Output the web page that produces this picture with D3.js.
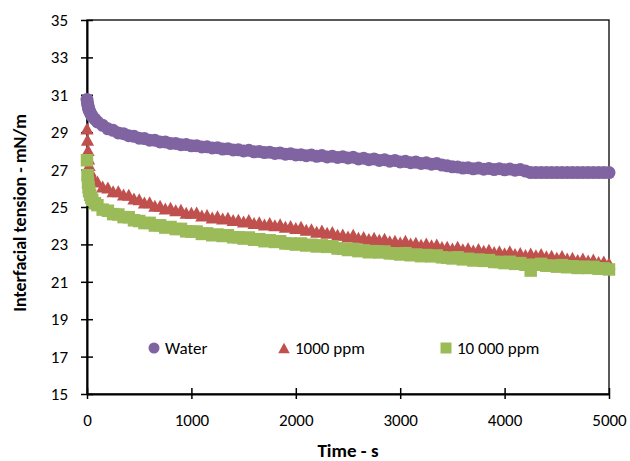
<!DOCTYPE html>
<html>
<head>
<meta charset="utf-8">
<script src="https://cdn.jsdelivr.net/npm/d3@7"></script>
<style>
  html, body { margin: 0; padding: 0; background: #fff; }
  svg text { font-family: Carlito, Lato, sans-serif; fill: #000; }
</style>
</head>
<body>
<div id="chart"></div>
<script>
/////////////////////////////////////////////////////////
////////////////////// The data /////////////////////////
/////////////////////////////////////////////////////////

// sampling times (s), shared by the three series
const times = [
  0, 5, 10, 15, 20, 30, 40, 50, 75,
  100, 150, 200, 250, 300, 350, 400, 450, 500, 550, 600, 650, 700, 750, 800, 850, 900, 950, 1000,
  1050, 1100, 1150, 1200, 1250, 1300, 1350, 1400, 1450, 1500, 1550, 1600, 1650, 1700, 1750, 1800, 1850, 1900, 1950, 2000,
  2050, 2100, 2150, 2200, 2250, 2300, 2350, 2400, 2450, 2500, 2550, 2600, 2650, 2700, 2750, 2800, 2850, 2900, 2950, 3000,
  3050, 3100, 3150, 3200, 3250, 3300, 3350, 3400, 3450, 3500, 3550, 3600, 3650, 3700, 3750, 3800, 3850, 3900, 3950, 4000,
  4050, 4100, 4150, 4200, 4250, 4300, 4350, 4400, 4450, 4500, 4550, 4600, 4650, 4700, 4750, 4800, 4850, 4900, 4950, 5000
];

// interfacial tension (mN/m)
const water = [
  30.75, 30.55, 30.4, 30.28, 30.18, 30.05, 29.95, 29.85, 29.7,
  29.55, 29.37, 29.18, 29.1, 28.96, 28.92, 28.81, 28.78, 28.68, 28.66, 28.57, 28.57, 28.48, 28.48, 28.4, 28.4, 28.33, 28.34, 28.27,
  28.28, 28.21, 28.22, 28.16, 28.17, 28.1, 28.12, 28.05, 28.06, 28.0, 28.03, 27.95, 27.97, 27.91, 27.93, 27.86, 27.89, 27.82, 27.85, 27.78,
  27.8, 27.74, 27.78, 27.71, 27.75, 27.68, 27.72, 27.65, 27.69, 27.62, 27.66, 27.57, 27.61, 27.53, 27.57, 27.49, 27.53, 27.45, 27.49, 27.41,
  27.44, 27.37, 27.4, 27.33, 27.36, 27.29, 27.32, 27.24, 27.2, 27.15, 27.14, 27.08, 27.1, 27.04, 27.08, 27.02, 27.06, 27.0, 27.05, 26.99,
  27.03, 26.97, 27.0, 26.92, 26.84, 26.84, 26.84, 26.84, 26.84, 26.84, 26.84, 26.84, 26.84, 26.84, 26.84, 26.84, 26.84, 26.84, 26.84, 26.84
];

const ppm1000 = [
  29.2, 28.6, 28.05, 27.6, 27.25, 26.95, 26.72, 26.58, 26.42,
  26.36, 26.1, 26.04, 25.84, 25.84, 25.67, 25.65, 25.45, 25.41, 25.24, 25.26, 25.07, 25.07, 24.92, 24.96, 24.83, 24.85, 24.69, 24.69,
  24.7, 24.55, 24.57, 24.44, 24.5, 24.39, 24.43, 24.3, 24.32, 24.22, 24.3, 24.15, 24.19, 24.07, 24.14, 24.03, 24.08, 23.95, 23.98, 23.88,
  23.94, 23.78, 23.81, 23.68, 23.74, 23.62, 23.66, 23.52, 23.53, 23.42, 23.51, 23.36, 23.4, 23.29, 23.36, 23.25, 23.3, 23.17, 23.2, 23.1,
  23.19, 23.05, 23.09, 22.98, 23.05, 22.95, 23.0, 22.86, 22.88, 22.78, 22.88, 22.74, 22.79, 22.68, 22.76, 22.66, 22.72, 22.59, 22.63, 22.53,
  22.63, 22.49, 22.54, 22.43, 22.51, 22.42, 22.48, 22.36, 22.39, 22.29, 22.38, 22.24, 22.28, 22.17, 22.24, 22.14, 22.19, 22.06, 22.09, 21.99
];

const ppm10000 = [
  27.5, 26.7, 26.3, 26.05, 25.85, 25.65, 25.5, 25.38, 25.2,
  25.1, 24.86, 24.8, 24.62, 24.6, 24.46, 24.45, 24.29, 24.25, 24.14, 24.15, 24.01, 24.02, 23.9, 23.93, 23.82, 23.83, 23.7, 23.68,
  23.69, 23.56, 23.59, 23.49, 23.53, 23.45, 23.49, 23.38, 23.38, 23.31, 23.37, 23.25, 23.28, 23.17, 23.22, 23.13, 23.17, 23.05, 23.05, 22.99,
  23.05, 22.94, 22.98, 22.89, 22.95, 22.87, 22.9, 22.78, 22.77, 22.7, 22.76, 22.64, 22.68, 22.58, 22.64, 22.57, 22.62, 22.52, 22.52, 22.46,
  22.53, 22.42, 22.46, 22.37, 22.43, 22.36, 22.41, 22.31, 22.29, 22.25, 22.31, 22.2, 22.23, 22.14, 22.19, 22.12, 22.16, 22.06, 22.06, 22.0,
  22.07, 21.96, 22.0, 21.91, 21.6, 21.91, 21.96, 21.86, 21.87, 21.81, 21.89, 21.78, 21.83, 21.74, 21.81, 21.74, 21.8, 21.7, 21.72, 21.66
];

const seriesNames = ["Water", "1000 ppm", "10 000 ppm"];
const seriesColors = ["#8064A2", "#C0504D", "#9BBB59"];
const xTicks = [0, 1000, 2000, 3000, 4000, 5000];
const yTicks = [15, 17, 19, 21, 23, 25, 27, 29, 31, 33, 35];

/////////////////////////////////////////////////////////
//////////////////// Scales & svg ///////////////////////
/////////////////////////////////////////////////////////
const W = 630, H = 461;
const plot = {left: 87, right: 609, top: 20, bottom: 394};

const x = d3.scaleLinear().domain([0, 5000]).range([plot.left, plot.right]);
const y = d3.scaleLinear().domain([15, 35]).range([plot.bottom, plot.top]);

const svg = d3.select("#chart").append("svg")
  .attr("width", W)
  .attr("height", H);

// frame on top and right
svg.append("rect")
  .attr("x", plot.left).attr("y", plot.top)
  .attr("width", plot.right - plot.left).attr("height", plot.bottom - plot.top)
  .attr("fill", "none").attr("stroke", "#000").attr("stroke-width", 1.3);

// y axis, ticks cross the line
const yAxis = svg.append("g")
  .attr("transform", `translate(${plot.left},0)`)
  .call(d3.axisLeft(y).tickValues(yTicks).tickSize(6).tickSizeOuter(0).tickPadding(13));
yAxis.select(".domain").attr("stroke-width", 2);
yAxis.selectAll(".tick line").attr("x1", 6).attr("stroke-width", 1.5);
yAxis.selectAll(".tick text").style("font-size", "17px");

// x axis
const xAxis = svg.append("g")
  .attr("transform", `translate(0,${plot.bottom})`)
  .call(d3.axisBottom(x).tickValues(xTicks).tickFormat(d3.format("d")).tickSize(5).tickSizeOuter(0));
xAxis.select(".domain").attr("stroke-width", 2);
xAxis.selectAll(".tick line").attr("y1", -6).attr("stroke-width", 1.5);
xAxis.selectAll(".tick text").attr("y", 32).attr("dy", 0).style("font-size", "17px");

/////////////////////////////////////////////////////////
///////////////////// The markers ///////////////////////
/////////////////////////////////////////////////////////
// triangle centred on its bounding box (like the spreadsheet marker)
const boxTriangle = {
  draw(context, size) {
    const h = Math.sqrt(size) / 2;
    context.moveTo(0, -h);
    context.lineTo(h * 1.1, h);
    context.lineTo(-h * 1.1, h);
    context.closePath();
  }
};
const symbols = [d3.symbolCircle, boxTriangle, d3.symbolSquare];
const sizes = [133, 144, 156];
const legendSizes = [95, 110, 121];
const allSeries = [water, ppm1000, ppm10000];

allSeries.forEach((vals, s) => {
  svg.append("g")
    .selectAll("path")
    .data(vals)
    .enter()
    .append("path")
    .attr("transform", (d, i) => `translate(${x(times[i])},${y(d)})`)
    .attr("d", d3.symbol().type(symbols[s]).size(sizes[s]))
    .attr("fill", seriesColors[s]);
});

/////////////////////////////////////////////////////////
////////////////////// Legend ///////////////////////////
/////////////////////////////////////////////////////////
const legendX = [154, 284, 446];
const legendY = 348;
const legend = svg.append("g");
seriesNames.forEach((name, s) => {
  legend.append("path")
    .attr("transform", `translate(${legendX[s]},${legendY})`)
    .attr("d", d3.symbol().type(symbols[s]).size(legendSizes[s]))
    .attr("fill", seriesColors[s]);
  legend.append("text")
    .attr("x", legendX[s] + 11)
    .attr("y", legendY)
    .attr("dy", "0.35em")
    .style("font-size", "17px")
    .text(name);
});

/////////////////////////////////////////////////////////
/////////////////// Axis titles /////////////////////////
/////////////////////////////////////////////////////////
svg.append("text")
  .attr("x", (plot.left + plot.right) / 2)
  .attr("y", 457)
  .attr("text-anchor", "middle")
  .style("font-size", "19px")
  .style("font-weight", "bold")
  .text("Time - s");

svg.append("text")
  .attr("transform", "translate(26,213) rotate(-90)")
  .attr("text-anchor", "middle")
  .style("font-size", "18px")
  .style("font-weight", "bold")
  .text("Interfacial tension - mN/m");
</script>
</body>
</html>
